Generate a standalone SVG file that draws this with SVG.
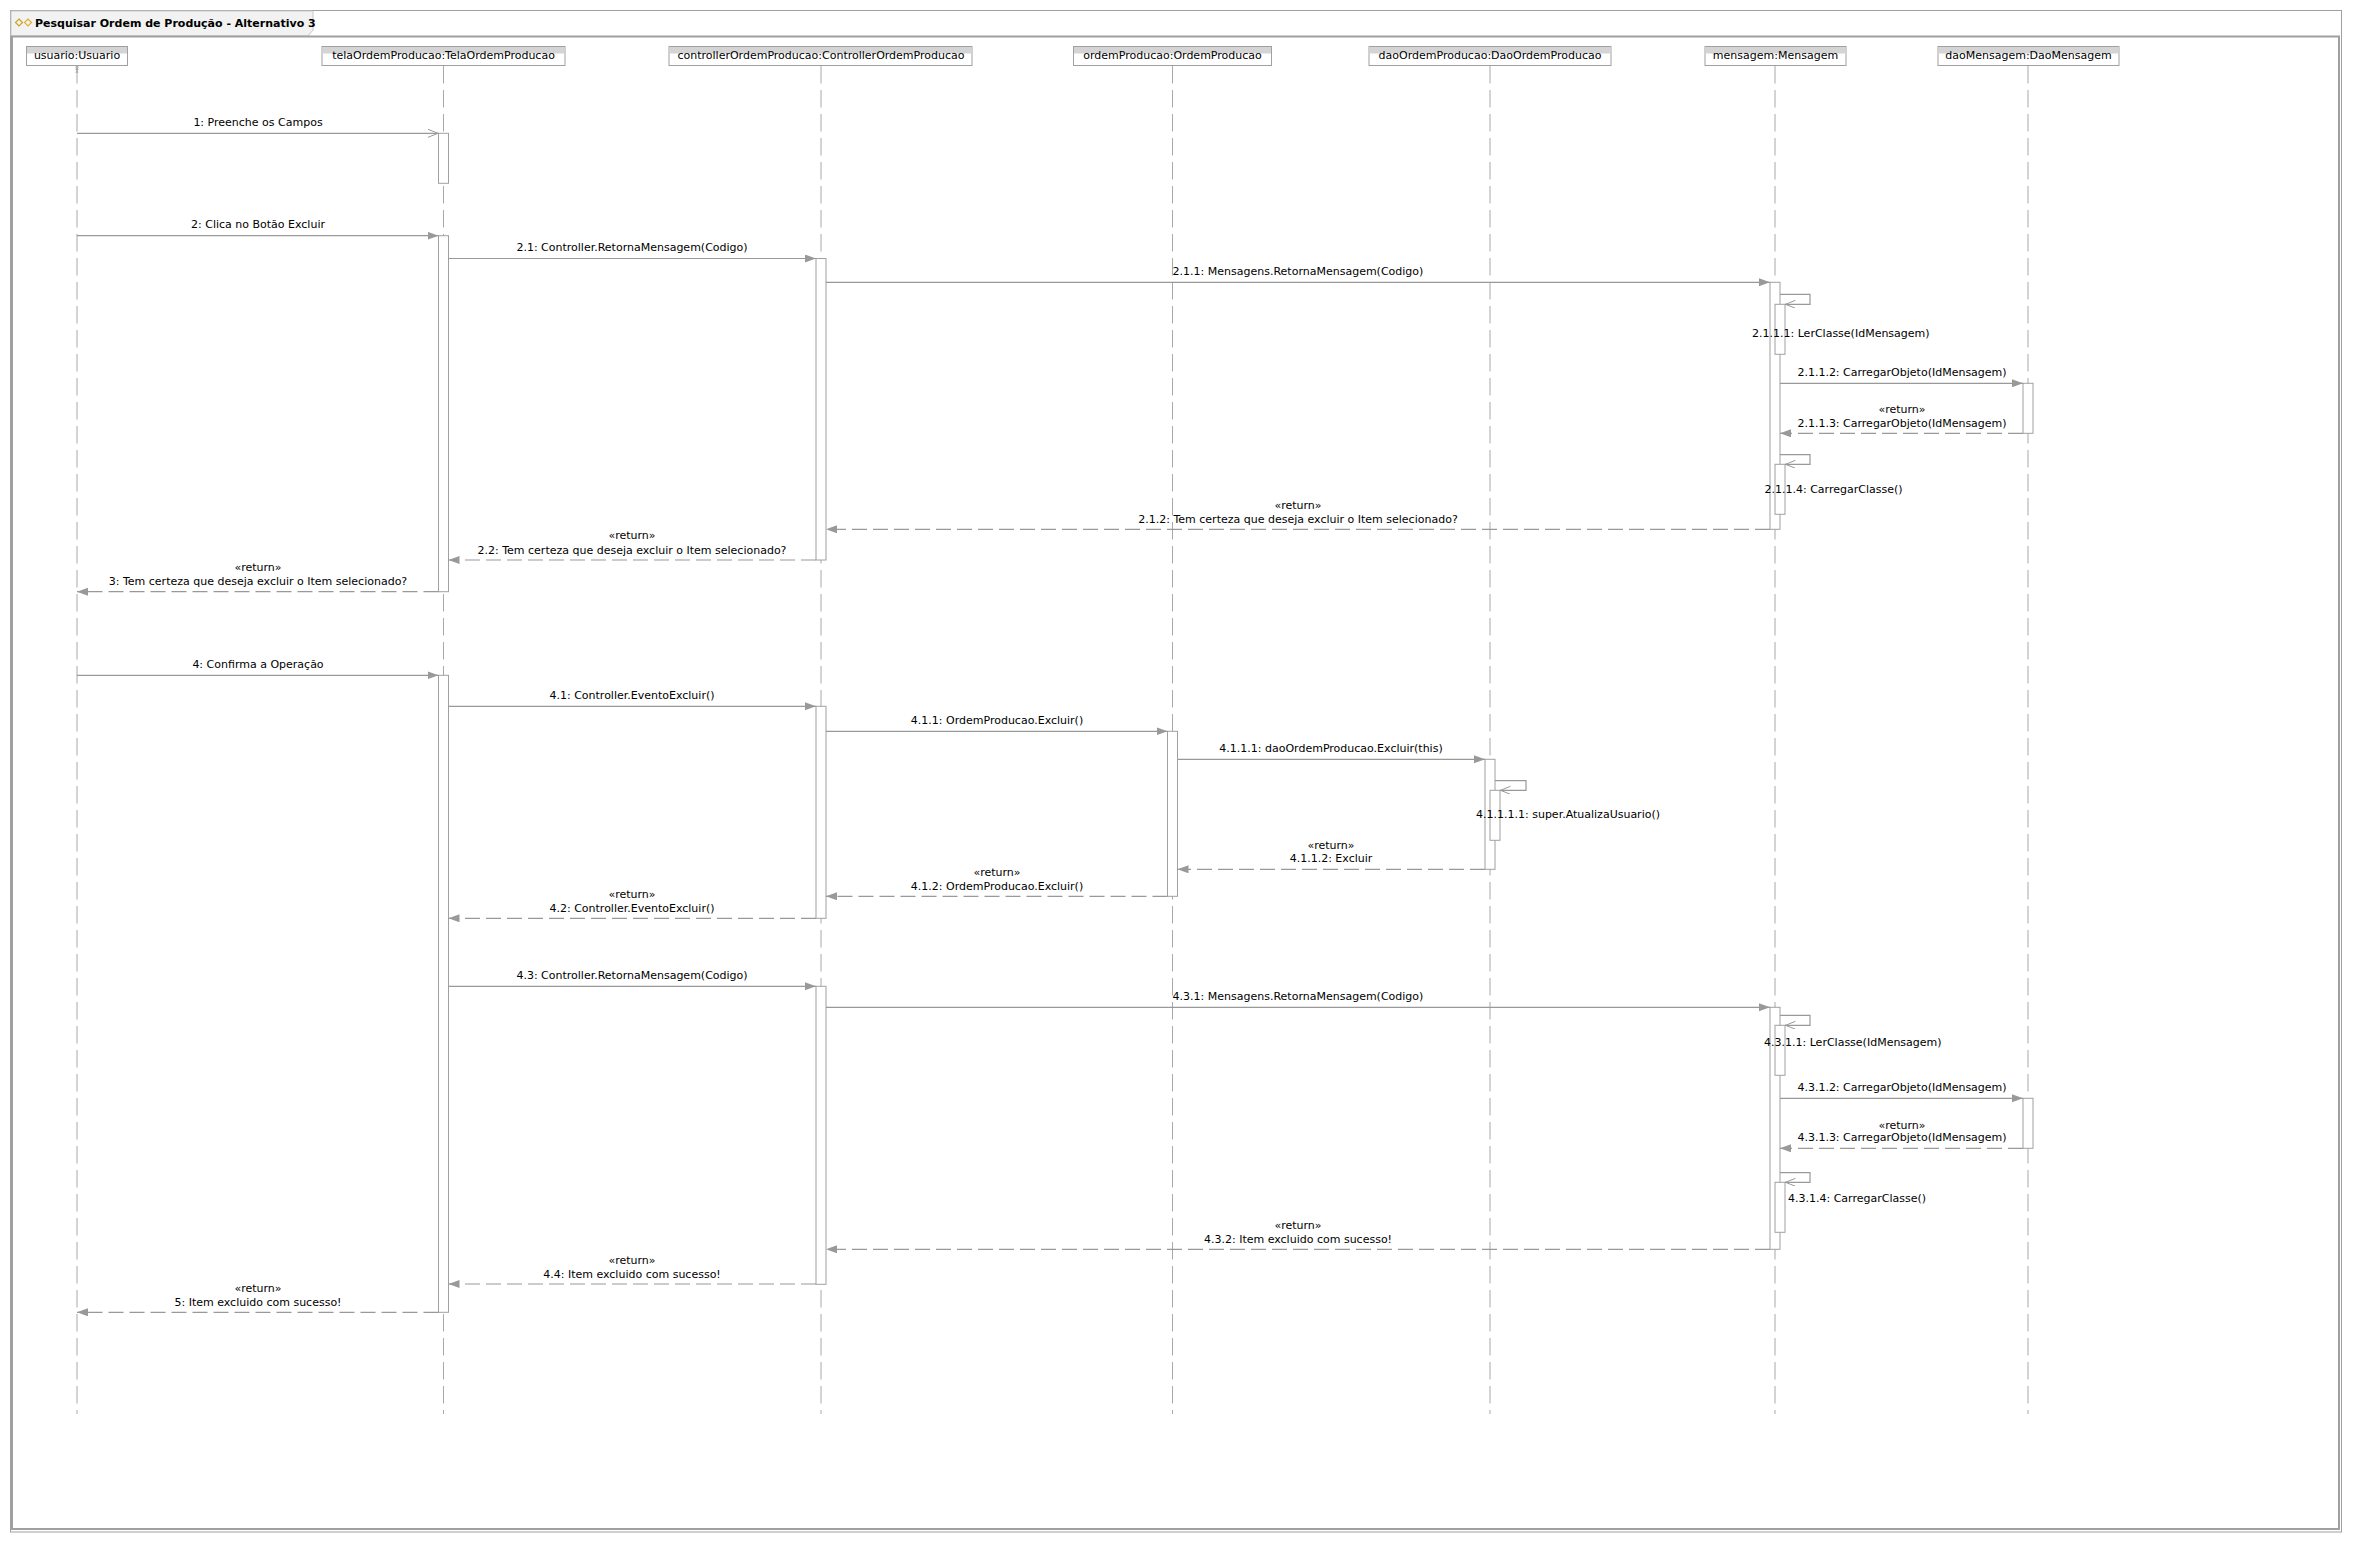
<svg xmlns="http://www.w3.org/2000/svg" width="2353" height="1541" viewBox="0 0 2353 1541">
<style>
text{font-family:"DejaVu Sans","Liberation Sans",sans-serif;font-size:11px;fill:#000}
.t{font-weight:bold}
.c{text-anchor:middle}
.hd{fill:#fff;stroke:#a0a0a0;stroke-width:1}
.band{fill:#d4d4d4}
.ll{stroke:#a8a8a8;stroke-width:1;stroke-dasharray:17.5,6.5;fill:none}
.act{fill:#fff;stroke:#a0a0a0;stroke-width:1}
.m{stroke:#999;stroke-width:1.2;fill:none;marker-end:url(#fa)}
.mo{stroke:#999;stroke-width:1.2;fill:none;marker-end:url(#oa)}
.r{stroke:#999;stroke-width:1.2;fill:none;stroke-dasharray:15,6;marker-end:url(#fa)}
</style>
<defs>
<marker id="fa" markerUnits="userSpaceOnUse" markerWidth="12" markerHeight="10" refX="11" refY="4" orient="auto">
<path d="M0,0 L11,4 L0,8 z" fill="#999"/>
</marker>
<marker id="oa" markerUnits="userSpaceOnUse" markerWidth="12" markerHeight="10" refX="10.5" refY="4" orient="auto">
<path d="M0,0 L10,4 L0,8" fill="none" stroke="#999" stroke-width="1"/>
</marker>
</defs>
<rect x="0" y="0" width="2353" height="1541" fill="#fff"/>
<g id="frame">
<rect x="10.5" y="10.5" width="2331" height="1521.5" fill="none" stroke="#a0a0a0" stroke-width="1"/>
<polygon points="11,11 313,11 313,30 308,36 11,36" fill="#f2f2f2" stroke="#c8c8c8" stroke-width="1"/>
<rect x="12" y="36.5" width="2327" height="1492.5" fill="none" stroke="#a0a0a0" stroke-width="2"/>
<g id="icon" fill="none" stroke-width="1.2">
<polygon points="19,19 22.5,22.5 19,26 15.5,22.5" stroke="#d0a020"/>
<polygon points="28,19 31.5,22.5 28,26 24.5,22.5" stroke="#e0b030"/>
</g>
<text class="t" x="35" y="26.5">Pesquisar Ordem de Produção - Alternativo 3</text>
</g>
<g id="lifelines">
<line class="ll" x1="77" y1="66" x2="77" y2="1414"/>
<line class="ll" x1="443.5" y1="66" x2="443.5" y2="1414"/>
<line class="ll" x1="821" y1="66" x2="821" y2="1414"/>
<line class="ll" x1="1172.5" y1="66" x2="1172.5" y2="1414"/>
<line class="ll" x1="1490" y1="66" x2="1490" y2="1414"/>
<line class="ll" x1="1775" y1="66" x2="1775" y2="1414"/>
<line class="ll" x1="2028" y1="66" x2="2028" y2="1414"/>
</g>
<g id="usuario">
<rect class="hd" x="26.5" y="46.5" width="101" height="19"/>
<rect class="band" x="27" y="47" width="100" height="6.5"/>
<text class="c" x="77" y="59">usuario:Usuario</text>
<g stroke="#999" stroke-width="0.8" fill="none"><circle cx="77" cy="67.3" r="1.1"/><line x1="77" y1="68.4" x2="77" y2="71"/><line x1="75.5" y1="69.3" x2="78.5" y2="69.3"/><line x1="77" y1="71" x2="75.8" y2="73"/><line x1="77" y1="71" x2="78.2" y2="73"/></g>
</g>
<g id="tela">
<rect class="hd" x="322" y="46.5" width="243" height="19"/>
<rect class="band" x="322.5" y="47" width="242" height="6.5"/>
<text class="c" x="443.5" y="59">telaOrdemProducao:TelaOrdemProducao</text>
</g>
<g id="controller">
<rect class="hd" x="669" y="46.5" width="303" height="19"/>
<rect class="band" x="669.5" y="47" width="302" height="6.5"/>
<text class="c" x="821" y="59">controllerOrdemProducao:ControllerOrdemProducao</text>
</g>
<g id="ordemProducao">
<rect class="hd" x="1073.5" y="46.5" width="198" height="19"/>
<rect class="band" x="1074" y="47" width="197" height="6.5"/>
<text class="c" x="1172.5" y="59">ordemProducao:OrdemProducao</text>
</g>
<g id="daoOrdemProducao">
<rect class="hd" x="1369" y="46.5" width="242" height="19"/>
<rect class="band" x="1369.5" y="47" width="241" height="6.5"/>
<text class="c" x="1490" y="59">daoOrdemProducao:DaoOrdemProducao</text>
</g>
<g id="mensagem">
<rect class="hd" x="1705" y="46.5" width="141" height="19"/>
<rect class="band" x="1705.5" y="47" width="140" height="6.5"/>
<text class="c" x="1775.5" y="59">mensagem:Mensagem</text>
</g>
<g id="daoMensagem">
<rect class="hd" x="1938" y="46.5" width="181" height="19"/>
<rect class="band" x="1938.5" y="47" width="180" height="6.5"/>
<text class="c" x="2028.5" y="59">daoMensagem:DaoMensagem</text>
</g>
<g id="activations">
<rect class="act" x="438.5" y="133.3" width="10" height="50"/>
<rect class="act" x="438.5" y="235.7" width="10" height="356"/>
<rect class="act" x="816" y="258.5" width="10" height="301.5"/>
<rect class="act" x="1770" y="282.3" width="10" height="247"/>
<rect class="act" x="1775" y="304.3" width="10" height="50"/>
<rect class="act" x="2023" y="383.3" width="10" height="50"/>
<rect class="act" x="1775" y="464.3" width="10" height="50"/>
<rect class="act" x="438.5" y="675.3" width="10" height="637"/>
<rect class="act" x="816" y="706.3" width="10" height="212"/>
<rect class="act" x="1167.5" y="731.3" width="10" height="165"/>
<rect class="act" x="1485" y="759.3" width="10" height="110"/>
<rect class="act" x="1490" y="790.3" width="10" height="50"/>
<rect class="act" x="816" y="986.3" width="10" height="298"/>
<rect class="act" x="1770" y="1007.3" width="10" height="242"/>
<rect class="act" x="1775" y="1025.3" width="10" height="50"/>
<rect class="act" x="2023" y="1098.3" width="10" height="50"/>
<rect class="act" x="1775" y="1182.3" width="10" height="50"/>
</g>
<g id="connectors">
<line class="mo" x1="77" y1="133.3" x2="438.5" y2="133.3"/>
<line class="m" x1="77" y1="235.7" x2="438.5" y2="235.7"/>
<line class="m" x1="448.5" y1="258.5" x2="816" y2="258.5"/>
<line class="m" x1="826" y1="282.3" x2="1770" y2="282.3"/>
<polyline class="mo" points="1780,294.3 1810,294.3 1810,304.3 1785,304.3"/>
<line class="m" x1="1780" y1="383.3" x2="2023" y2="383.3"/>
<line class="r" x1="2023" y1="433.3" x2="1780" y2="433.3"/>
<polyline class="mo" points="1780,454.7 1810,454.7 1810,464.3 1785,464.3"/>
<line class="r" x1="1770" y1="529.3" x2="826" y2="529.3"/>
<line class="r" x1="816" y1="560" x2="448.5" y2="560"/>
<line class="r" x1="438.5" y1="591.7" x2="77" y2="591.7"/>
<line class="m" x1="77" y1="675.3" x2="438.5" y2="675.3"/>
<line class="m" x1="448.5" y1="706.3" x2="816" y2="706.3"/>
<line class="m" x1="826" y1="731.3" x2="1167.5" y2="731.3"/>
<line class="m" x1="1177.5" y1="759.3" x2="1485" y2="759.3"/>
<polyline class="mo" points="1495,780.7 1526,780.7 1526,790.3 1500,790.3"/>
<line class="r" x1="1485" y1="869.3" x2="1177.5" y2="869.3"/>
<line class="r" x1="1167.5" y1="896.3" x2="826" y2="896.3"/>
<line class="r" x1="816" y1="918.3" x2="448.5" y2="918.3"/>
<line class="m" x1="448.5" y1="986.3" x2="816" y2="986.3"/>
<line class="m" x1="826" y1="1007.3" x2="1770" y2="1007.3"/>
<polyline class="mo" points="1780,1015.3 1810,1015.3 1810,1025.3 1785,1025.3"/>
<line class="m" x1="1780" y1="1098.3" x2="2023" y2="1098.3"/>
<line class="r" x1="2023" y1="1148.3" x2="1780" y2="1148.3"/>
<polyline class="mo" points="1780,1172.7 1810,1172.7 1810,1182.3 1785,1182.3"/>
<line class="r" x1="1770" y1="1249.3" x2="826" y2="1249.3"/>
<line class="r" x1="816" y1="1284" x2="448.5" y2="1284"/>
<line class="r" x1="438.5" y1="1312.3" x2="77" y2="1312.3"/>
</g>
<g id="labels">
<text class="c" x="258" y="126">1: Preenche os Campos</text>
<text class="c" x="258" y="228">2: Clica no Botão Excluir</text>
<text class="c" x="632" y="251">2.1: Controller.RetornaMensagem(Codigo)</text>
<text class="c" x="1298" y="275">2.1.1: Mensagens.RetornaMensagem(Codigo)</text>
<text x="1752" y="336.7">2.1.1.1: LerClasse(IdMensagem)</text>
<text class="c" x="1902" y="375.7">2.1.1.2: CarregarObjeto(IdMensagem)</text>
<text class="c" x="1902" y="412.7">«return»</text>
<text class="c" x="1902" y="426.7">2.1.1.3: CarregarObjeto(IdMensagem)</text>
<text x="1764.5" y="492.7">2.1.1.4: CarregarClasse()</text>
<text class="c" x="1298" y="509">«return»</text>
<text class="c" x="1298" y="522.7">2.1.2: Tem certeza que deseja excluir o Item selecionado?</text>
<text class="c" x="632" y="539">«return»</text>
<text class="c" x="632" y="554">2.2: Tem certeza que deseja excluir o Item selecionado?</text>
<text class="c" x="258" y="570.7">«return»</text>
<text class="c" x="258" y="584.7">3: Tem certeza que deseja excluir o Item selecionado?</text>
<text class="c" x="258" y="668">4: Confirma a Operação</text>
<text class="c" x="632" y="699">4.1: Controller.EventoExcluir()</text>
<text class="c" x="997" y="724">4.1.1: OrdemProducao.Excluir()</text>
<text class="c" x="1331" y="752">4.1.1.1: daoOrdemProducao.Excluir(this)</text>
<text x="1476" y="818">4.1.1.1.1: super.AtualizaUsuario()</text>
<text class="c" x="1331" y="849">«return»</text>
<text class="c" x="1331" y="862.3">4.1.1.2: Excluir</text>
<text class="c" x="997" y="875.7">«return»</text>
<text class="c" x="997" y="890">4.1.2: OrdemProducao.Excluir()</text>
<text class="c" x="632" y="898">«return»</text>
<text class="c" x="632" y="911.7">4.2: Controller.EventoExcluir()</text>
<text class="c" x="632" y="979">4.3: Controller.RetornaMensagem(Codigo)</text>
<text class="c" x="1298" y="999.7">4.3.1: Mensagens.RetornaMensagem(Codigo)</text>
<text x="1764" y="1045.7">4.3.1.1: LerClasse(IdMensagem)</text>
<text class="c" x="1902" y="1090.7">4.3.1.2: CarregarObjeto(IdMensagem)</text>
<text class="c" x="1902" y="1128.7">«return»</text>
<text class="c" x="1902" y="1141.3">4.3.1.3: CarregarObjeto(IdMensagem)</text>
<text x="1788" y="1201.7">4.3.1.4: CarregarClasse()</text>
<text class="c" x="1298" y="1229">«return»</text>
<text class="c" x="1298" y="1243">4.3.2: Item excluido com sucesso!</text>
<text class="c" x="632" y="1264">«return»</text>
<text class="c" x="632" y="1278">4.4: Item excluido com sucesso!</text>
<text class="c" x="258" y="1292">«return»</text>
<text class="c" x="258" y="1306">5: Item excluido com sucesso!</text>
</g>
</svg>
